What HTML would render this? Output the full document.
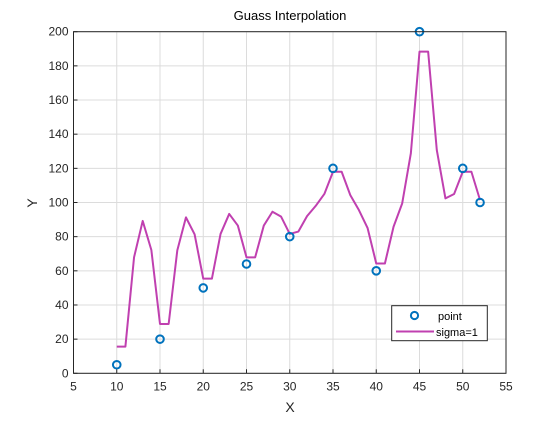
<!DOCTYPE html>
<html><head><meta charset="utf-8"><style>
body{margin:0;background:#fff;}
svg text{font-family:"Liberation Sans",sans-serif;}
</style></head><body>
<svg id="chart" width="560" height="420" xmlns="http://www.w3.org/2000/svg">
<rect x="0" y="0" width="560" height="420" fill="#fff"/>
<g id="grid"></g>
<g id="ticks"></g>
<g id="series"></g>
<rect x="73.5" y="31.7" width="432.5" height="341.6" fill="none" stroke="#262626" stroke-width="1"/>
<text x="290" y="20" text-anchor="middle" font-size="13" fill="#000">Guass Interpolation</text>
<text x="290" y="412" text-anchor="middle" font-size="14" fill="#262626">X</text>
<text x="37" y="203" text-anchor="middle" font-size="14" fill="#262626" transform="rotate(-90 37 203)">Y</text>
<g>
<rect x="391.7" y="305.7" width="95.6" height="35" fill="#fff" stroke="#262626" stroke-width="1"/>
<circle cx="414.5" cy="315.5" r="3.6" fill="none" stroke="#0072BD" stroke-width="2"/>
<text x="438" y="320" font-size="11" fill="#000">point</text>
<line x1="396" y1="331.5" x2="434" y2="331.5" stroke="#C040B0" stroke-width="2"/>
<text x="436" y="336" font-size="11" fill="#000">sigma=1</text>
</g>
</svg>
<script>
const pointX=[10,15,20,25,30,35,40,45,50,52];
const pointY=[5,20,50,64,80,120,60,200,120,100];
const lineX=[10,11,12,13,14,15,16,17,18,19,20,21,22,23,24,25,26,27,28,29,30,31,32,33,34,35,36,37,38,39,40,41,42,43,44,45,46,47,48,49,50,51,52];
const lineY=[15.6,15.6,67.9,89.2,72.2,28.9,28.9,72,91.3,81.4,55.4,55.4,81.6,93.3,86.5,67.9,67.9,86.5,94.6,91.7,81.6,83,92,98,105,118,118,104.3,95.5,85,64.3,64.3,85.8,99.5,128.8,188.3,188.3,130.7,102.4,105,118,118,101.4];
const xTicks=[5,10,15,20,25,30,35,40,45,50,55];
const yTicks=[0,20,40,60,80,100,120,140,160,180,200];
const NS="http://www.w3.org/2000/svg";
const L=73.5,R=506,T=31.7,B=373.3;
function sx(v){return L+(v-5)/50*(R-L);}
function sy(v){return B-v/200*(B-T);}
function mk(tag,attrs,parent){const e=document.createElementNS(NS,tag);for(const k in attrs)e.setAttribute(k,attrs[k]);parent.appendChild(e);return e;}
const grid=document.getElementById('grid'),ticks=document.getElementById('ticks'),series=document.getElementById('series');
xTicks.forEach(v=>{
  const g=mk('line',{x1:sx(v),x2:sx(v),y1:T,y2:B,stroke:'#dcdcdc','stroke-width':1},grid);
  
  
  const t=mk('line',{x1:sx(v),x2:sx(v),y1:B,y2:B-4,stroke:'#262626'},ticks);
  
  
  const lb=mk('text',{x:sx(v),y:B+17,'text-anchor':'middle','font-size':12,fill:'#262626'},ticks);
  lb.textContent=v;
  
  
});
yTicks.forEach(v=>{
  const g=mk('line',{x1:L,x2:R,y1:sy(v),y2:sy(v),stroke:'#dcdcdc','stroke-width':1},grid);
  
  
  const t=mk('line',{x1:L,x2:L+4,y1:sy(v),y2:sy(v),stroke:'#262626'},ticks);
  
  
  const lb=mk('text',{x:L-5,y:sy(v)+4,'text-anchor':'end','font-size':12,fill:'#262626'},ticks);
  lb.textContent=v;
  
  
});
const pl=mk('polyline',{points:lineX.map((x,i)=>sx(x)+','+sy(lineY[i])).join(' '),fill:'none',stroke:'#C040B0','stroke-width':2,'stroke-linejoin':'round'},series);


pointX.forEach((x,i)=>{
  const c=mk('circle',{cx:sx(x),cy:sy(pointY[i]),r:3.8,fill:'none',stroke:'#0072BD','stroke-width':2},series);
  
  
});
</script>
</body></html>
